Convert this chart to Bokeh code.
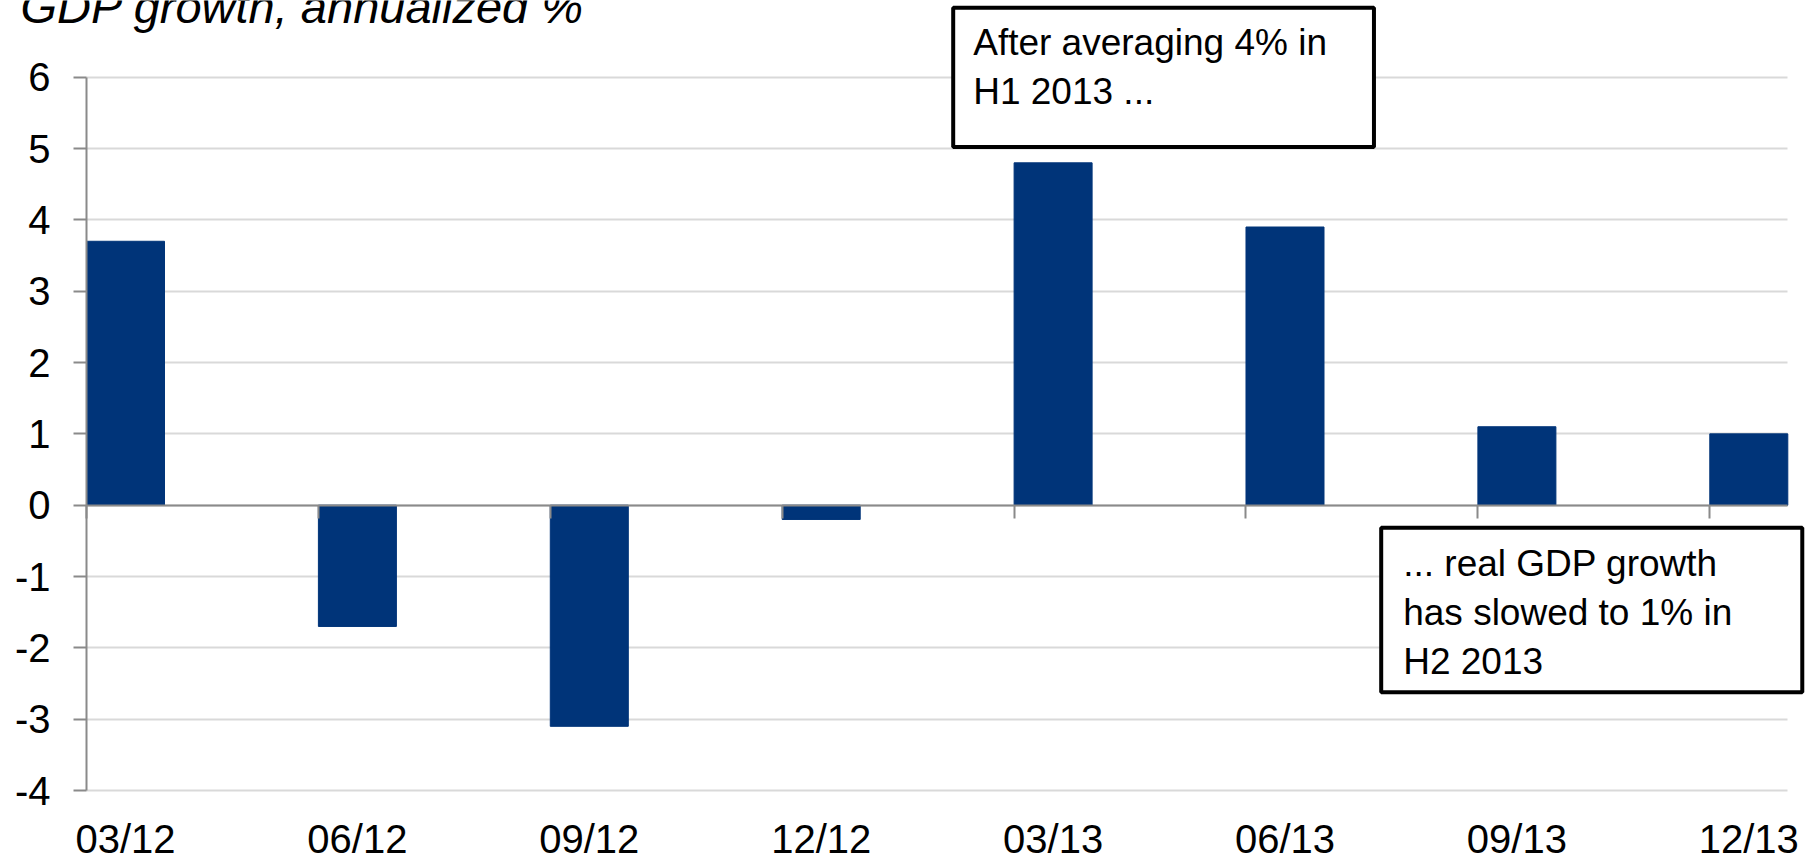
from bokeh.plotting import figure
from bokeh.models import (FixedTicker, Label, Range1d, ColumnDataSource, LinearAxis)
from bokeh.embed import file_html
from bokeh.resources import INLINE

# ---- data ----
categories = ["03/12", "06/12", "09/12", "12/12", "03/13", "06/13", "09/13", "12/13"]
gdp_growth = [3.7, -1.7, -3.1, -0.2, 4.8, 3.9, 1.1, 1.0]
y_ticks = [-4, -3, -2, -1, 0, 1, 2, 3, 4, 5, 6]
y_tick_labels = ["-4", "-3", "-2", "-1", "0", "1", "2", "3", "4", "5", "6"]
title_text = "GDP growth, annualized %"
note_h1 = "After averaging 4% in\nH1 2013 ..."
note_h2 = "... real GDP growth\nhas slowed to 1% in\nH2 2013"

FONT = "Liberation Sans"
BAR = "#003479"
AXIS_GREY = "#8a8a8a"
GRID_GREY = "#d9d9d9"

W, H = 1817, 859
CAT_PX = 231.9      # pixels per category
X0_PX = 125.0       # pixel centre of first bar
UNIT_PX = 71.33     # pixels per percentage point
Y0_PX = 504.7       # pixel row of zero

idx = list(range(len(categories)))
bar_w = 0.3364
half = bar_w / 2
x_lo, x_hi = -half, len(categories) - 1 + half

p = figure(width=W, height=H, output_backend="svg", toolbar_location=None,
           x_range=Range1d(-X0_PX / CAT_PX, (W - X0_PX) / CAT_PX),
           y_range=Range1d((Y0_PX - H) / UNIT_PX, Y0_PX / UNIT_PX),
           min_border=0, x_axis_location=None, y_axis_location=None)
p.title.visible = False
p.outline_line_color = None
p.background_fill_color = "white"
p.border_fill_color = "white"

# grid
p.xgrid.visible = False
p.ygrid.ticker = FixedTicker(ticks=y_ticks)
p.ygrid.grid_line_color = GRID_GREY
p.ygrid.grid_line_width = 2
try:
    p.ygrid.cross_bounds = (x_lo, x_hi)
except AttributeError:
    p.ygrid.visible = False
    p.segment(x0=[x_lo] * len(y_ticks), x1=[x_hi] * len(y_ticks), y0=y_ticks, y1=y_ticks,
              line_color=GRID_GREY, line_width=2)

src = ColumnDataSource(dict(x=idx, top=gdp_growth))
p.vbar(x="x", top="top", bottom=0, width=bar_w, source=src,
       fill_color=BAR, line_color=BAR, line_width=1)

# y axis
yax = LinearAxis(fixed_location=x_lo, bounds=(y_ticks[0], y_ticks[-1]))
yax.ticker = FixedTicker(ticks=y_ticks)
yax.major_label_overrides = {t: s for t, s in zip(y_ticks, y_tick_labels)}
yax.axis_line_color = AXIS_GREY
yax.axis_line_width = 2
yax.major_tick_line_color = AXIS_GREY
yax.major_tick_line_width = 2
yax.major_tick_out = 13
yax.major_tick_in = 0
yax.minor_tick_line_color = None
yax.major_label_text_font = FONT
yax.major_label_text_font_size = "40px"
yax.major_label_text_color = "black"
yax.major_label_standoff = 23
p.add_layout(yax, "left")

# zero axis with category-boundary ticks
zax = LinearAxis(fixed_location=0, bounds=(x_lo, x_hi))
zax.ticker = FixedTicker(ticks=[i - half for i in idx])
zax.axis_line_color = AXIS_GREY
zax.axis_line_width = 2
zax.major_tick_line_color = AXIS_GREY
zax.major_tick_line_width = 2
zax.major_tick_out = 13
zax.major_tick_in = 0
zax.minor_tick_line_color = None
zax.major_label_text_font_size = "0px"
zax.major_label_text_alpha = 0
p.add_layout(zax, "below")

# category labels at the bottom
xax = LinearAxis(fixed_location=y_ticks[0])
xax.ticker = FixedTicker(ticks=idx)
xax.major_label_overrides = {i: c for i, c in zip(idx, categories)}
xax.axis_line_color = None
xax.major_tick_line_color = None
xax.minor_tick_line_color = None
xax.major_tick_out = 0
xax.major_tick_in = 0
xax.major_label_text_font = FONT
xax.major_label_text_font_size = "40px"
xax.major_label_text_color = "black"
xax.major_label_standoff = 26
p.add_layout(xax, "below")

# title (partially above the canvas, as in the reference)
p.add_layout(Label(x=(20 - X0_PX) / CAT_PX, y=(Y0_PX - 6) / UNIT_PX, text=title_text,
                   text_font=FONT, text_font_size="47px", text_font_style="italic",
                   text_color="black", text_baseline="alphabetic", text_align="left"))

# annotation boxes
p.add_layout(Label(x=(952.7 - X0_PX) / CAT_PX, y=(Y0_PX - 7.3) / UNIT_PX, text=note_h1,
                   anchor="top_left", text_font=FONT, text_font_size="37px",
                   text_color="black", text_line_height=1.2,
                   padding=dict(left=20, right=47, top=14, bottom=35),
                   border_line_color="black", border_line_width=4,
                   background_fill_color="white"))
p.add_layout(Label(x=(1380.7 - X0_PX) / CAT_PX, y=(Y0_PX - 527.3) / UNIT_PX, text=note_h2,
                   anchor="top_left", text_font=FONT, text_font_size="37px",
                   text_color="black", text_line_height=1.2,
                   padding=dict(left=22, right=70, top=15, bottom=10),
                   border_line_color="black", border_line_width=4,
                   background_fill_color="white"))

open("out.html", "w").write(file_html(p, INLINE))
